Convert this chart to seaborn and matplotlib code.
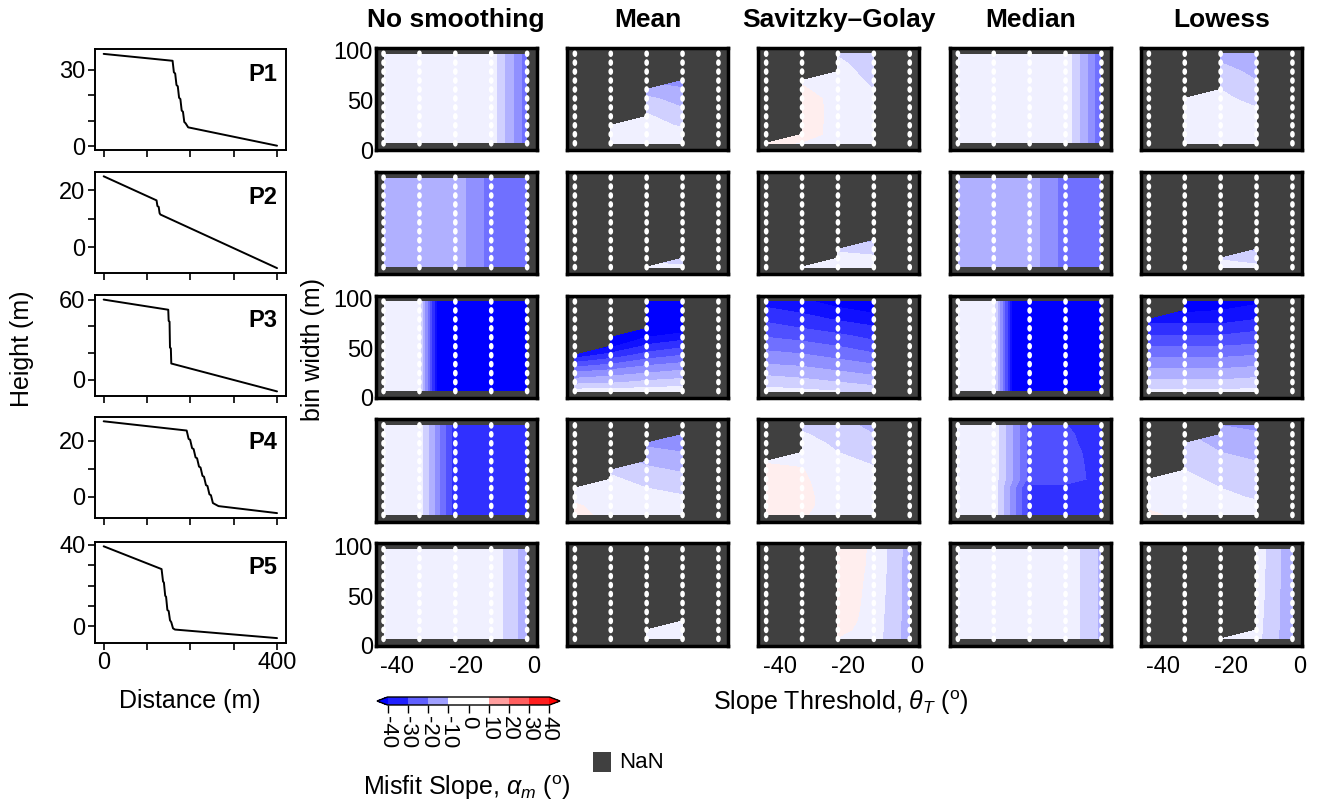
import numpy as np
import matplotlib
matplotlib.use("Agg")
import matplotlib.pyplot as plt
import seaborn as sns
from matplotlib.path import Path
from matplotlib.transforms import Affine2D
from matplotlib.colors import ListedColormap, BoundaryNorm
from matplotlib.cm import ScalarMappable
from matplotlib.patches import Rectangle

N = np.nan

# ---------------- data ----------------
methods = ["No smoothing", "Mean", "Savitzky\u2013Golay", "Median", "Lowess"]
profile_names = ["P1", "P2", "P3", "P4", "P5"]

slope_thresholds = [-44, -33.5, -23, -12.5, -2]
bin_widths = [7, 16, 25, 34, 43, 52, 61, 70, 79, 88, 97]

# profiles (distance m, height m)
p1_distance = [0, 159, 162, 165, 168, 171, 174, 177, 180, 183, 186, 189, 195, 400]
p1_height = [36.2, 33.5, 29, 28.5, 24, 23.5, 19, 18.5, 14, 13.5, 9.5, 9, 7.4, 0.2]
p2_distance = [0, 122, 124, 127, 129, 131, 400]
p2_height = [25, 16.5, 14.5, 14.2, 12, 11.5, -7.4]
p3_distance = [0, 149, 150, 152, 153, 155, 156, 400]
p3_height = [60, 52.4, 44, 43.5, 24, 23.5, 12.1, -8.8]
p4_distance = [0, 191.5, 196, 199.5, 204, 207.5, 212, 215.5, 220, 223.5, 228, 231.5,
               236, 239.5, 244, 247.5, 252, 255.5, 265, 400]
p4_height = [27, 23.7, 20.7, 20.4, 17.4, 17.1, 14.1, 13.8, 10.8, 10.5, 7.5, 7.2,
             4.2, 3.9, 0.9, 0.6, -2.2, -2.5, -3.3, -5.8]
p5_distance = [0, 133.6, 137, 139, 142, 144, 147, 150, 153, 156, 160, 164.5, 400]
p5_height = [39.3, 28.1, 22, 21.5, 15, 14.5, 8, 7.5, 3, 2, -1, -1.6, -5.8]

p_major_ticks = [[0, 30], [0, 20], [0, 60], [0, 20], [0, 40]]
p_minor_ticks = [[10, 20], [10], [20, 40], [10], [10, 20, 30]]

# misfit slope grids: 5 columns (slope thresholds) x 11 values (bin widths, bottom->top)
p1_none = [
    [-2, -2, -2, -2, -2, -2, -2, -2, -2, -2, -2],
    [-2, -2, -2, -2, -2, -2, -2, -2, -2, -2, -2],
    [-2, -2, -2, -2, -2, -2, -2, -2, -2, -2, -2],
    [-1.5, -1.5, -1.5, -1.5, -1.5, -1.5, -1.5, -1.5, -1.5, -1.5, -1.5],
    [-23, -23, -23, -23, -23, -23, -23, -23, -23, -23, -23]]
p1_mean = [
    [N, N, N, N, N, N, N, N, N, N, N],
    [-1.5, -2, -3, N, N, N, N, N, N, N, N],
    [-1.5, -2.5, -3.5, -4.5, -6, -9, -13, N, N, N, N],
    [-2, -3.5, -5.5, -7, -10, -12, -14.5, -17, N, N, N],
    [N, N, N, N, N, N, N, N, N, N, N]]
p1_sg = [
    [1, N, N, N, N, N, N, N, N, N, N],
    [-0.3, 2, 2.5, 3, 3, 2.5, 0.5, -0.5, N, N, N],
    [-1, -1.5, -1.8, -2, -2, -2, -2, -2.5, -3, -4, -5.5],
    [-2, -2.2, -2.5, -3, -3.5, -4, -5, -6, -7, -8, -9],
    [N, N, N, N, N, N, N, N, N, N, N]]
p1_median = [
    [-2, -2, -2, -2, -2, -2, -2, -2, -2, -2, -2],
    [-2, -2, -2, -2, -2, -2, -2, -2, -2, -2, -2],
    [-2, -2, -2, -2, -2, -2, -2, -2, -2, -2, -2],
    [-0.5, -0.5, -0.5, -0.5, -0.5, -0.5, -0.5, -0.5, -0.5, -0.5, -0.5],
    [-24, -24, -24, -24, -24, -24, -24, -24, -24, -24, -24]]
p1_lowess = [
    [N, N, N, N, N, N, N, N, N, N, N],
    [-1, -1.5, -2, -2, -2.5, -3, N, N, N, N, N],
    [-1, -1.5, -2, -2.5, -3, -4, -5, -7, -8.5, -10, -11],
    [-2, -2.5, -3, -4, -5, -6.5, -8, -10, -11, -12, -13],
    [N, N, N, N, N, N, N, N, N, N, N]]

p2_none = [
    [-11.5, -11.5, -11.5, -11.5, -11.5, -11.5, -11.5, -11.5, -11.5, -11.5, -11.5],
    [-12, -12, -12, -12, -12, -12, -12, -12, -12, -12, -12],
    [-12, -12, -12, -12, -12, -12, -12, -12, -12, -12, -12],
    [-22, -22, -22, -22, -22, -22, -22, -22, -22, -22, -22],
    [-22, -22, -22, -22, -22, -22, -22, -22, -22, -22, -22]]
p2_mean = [
    [N, N, N, N, N, N, N, N, N, N, N],
    [N, N, N, N, N, N, N, N, N, N, N],
    [-3, N, N, N, N, N, N, N, N, N, N],
    [-4, -8, N, N, N, N, N, N, N, N, N],
    [N, N, N, N, N, N, N, N, N, N, N]]
p2_sg = [
    [N, N, N, N, N, N, N, N, N, N, N],
    [-1.5, N, N, N, N, N, N, N, N, N, N],
    [-2, -3, -6, N, N, N, N, N, N, N, N],
    [-2.5, -4, -7, -11, N, N, N, N, N, N, N],
    [N, N, N, N, N, N, N, N, N, N, N]]
p2_median = [
    [-12, -12, -12, -12, -12, -12, -12, -12, -12, -12, -12],
    [-12, -12, -12, -12, -12, -12, -12, -12, -12, -12, -12],
    [-12, -12, -12, -12, -12, -12, -12, -12, -12, -12, -12],
    [-22, -22, -22, -22, -22, -22, -22, -22, -22, -22, -22],
    [-22, -22, -22, -22, -22, -22, -22, -22, -22, -22, -22]]
p2_lowess = [
    [N, N, N, N, N, N, N, N, N, N, N],
    [N, N, N, N, N, N, N, N, N, N, N],
    [-3, -5.5, N, N, N, N, N, N, N, N, N],
    [-4, -7, -11, N, N, N, N, N, N, N, N],
    [N, N, N, N, N, N, N, N, N, N, N]]

p3_none = [
    [-2, -2, -2, -2, -2, -2, -2, -2, -2, -2, -2],
    [-2, -2, -2, -2, -2, -2, -2, -2, -2, -2, -2],
    [-80, -80, -80, -80, -80, -80, -80, -80, -80, -80, -80],
    [-80, -80, -80, -80, -80, -80, -80, -80, -80, -80, -80],
    [-80, -80, -80, -80, -80, -80, -80, -80, -80, -80, -80]]
p3_mean = [
    [-3, -12, -19, -28, -38, N, N, N, N, N, N],
    [-3, -11, -17, -25, -33, -41, -48, N, N, N, N],
    [-2.5, -9, -15, -21, -28, -34, -40, -46, -52, -58, -64],
    [-2, -8, -13, -19, -25, -31, -37, -43, -49, -55, -60],
    [N, N, N, N, N, N, N, N, N, N, N]]
p3_sg = [
    [-3, -7.5, -11, -15, -18, -22, -25, -28, -31, -34, -37],
    [-4, -8.5, -12, -16, -19.5, -23, -26.5, -30, -33, -36, -39],
    [-5, -10, -14, -18, -21.5, -25, -28.5, -32, -35.5, -39, -42],
    [-7, -12, -16, -20, -24, -28, -31, -34, -38, -41, -44],
    [N, N, N, N, N, N, N, N, N, N, N]]
p3_median = [
    [-2, -2, -2, -2, -2, -2, -2, -2, -2, -2, -2],
    [-2, -2, -2, -2, -2, -2, -2, -2, -2, -2, -2],
    [-75, -75, -75, -75, -75, -75, -75, -75, -75, -75, -75],
    [-75, -75, -75, -75, -75, -75, -75, -75, -75, -75, -75],
    [-75, -75, -75, -75, -75, -75, -75, -75, -75, -75, -75]]
p3_lowess = [
    [-4, -9, -13, -17, -21, -25, -29, -33, -37, N, N],
    [-4, -9, -13, -17, -21, -25, -29, -33, -37, -41, -44],
    [-4, -9, -13, -17, -21, -25, -29, -33, -37, -40, -43],
    [-4, -8, -12, -16, -20, -24, -28, -31, -35, -38, -41],
    [N, N, N, N, N, N, N, N, N, N, N]]

p4_none = [
    [-2, -2, -2, -2, -2, -2, -2, -2, -2, -2, -2],
    [-2, -2, -2, -2, -2, -2, -2, -2, -2, -2, -2],
    [-33, -33, -33, -33, -33, -33, -33, -33, -33, -33, -33],
    [-33, -33, -33, -33, -33, -33, -33, -33, -33, -33, -33],
    [-33, -33, -33, -33, -33, -33, -33, -33, -33, -33, -33]]
p4_mean = [
    [1, 0.5, -1, -2, N, N, N, N, N, N, N],
    [-1, -1.5, -2, -3, -4, -6, N, N, N, N, N],
    [-1.5, -2.5, -3.5, -5, -7, -9, -11, -13.5, -16, N, N],
    [-2, -3, -4.5, -6.5, -8.5, -10.5, -12.5, -15, -17.5, -20, N],
    [N, N, N, N, N, N, N, N, N, N, N]]
p4_sg = [
    [1.5, 2.5, 3, 3, 2.5, 1.5, -0.5, N, N, N, N],
    [0.2, 0.6, 0.8, 0.8, 0.6, 0.2, -0.5, -2, -3, -4.5, -6],
    [-1, -1.2, -1.5, -2, -2.5, -3, -4, -5, -6, -7, -8],
    [-1.5, -2, -2.5, -3, -3.5, -4.5, -5.5, -6.5, -8, -10, -11.5],
    [N, N, N, N, N, N, N, N, N, N, N]]
p4_median = [
    [-2, -2, -2, -2, -2, -2, -2, -2, -2, -2, -2],
    [-2, -2, -2, -2, -2, -2, -2, -2, -2, -2, -2],
    [-32, -32, -32, -32, -27, -27, -27, -27, -27, -27, -27],
    [-33, -33, -33, -33, -26, -26.5, -27, -27.5, -28.5, -29, -29.8],
    [-33, -33, -33, -33, -33, -33, -33, -33, -33, -33, -33]]
p4_lowess = [
    [1, -1, -2, -3, -4, N, N, N, N, N, N],
    [-1.5, -2, -2.5, -3, -4, -5, -6, -7, -8, N, N],
    [-2, -3, -4, -5, -6, -7, -8.5, -10, -11.5, -13, -15],
    [-2.5, -4, -5.5, -7, -8, -9, -10, -11.5, -13, -14.5, -16],
    [N, N, N, N, N, N, N, N, N, N, N]]

p5_none = [
    [-1.5, -1.5, -1.5, -1.5, -1.5, -1.5, -1.5, -1.5, -1.5, -1.5, -1.5],
    [-1.5, -1.5, -1.5, -1.5, -1.5, -1.5, -1.5, -1.5, -1.5, -1.5, -1.5],
    [-1.5, -1.5, -1.5, -1.5, -1.5, -1.5, -1.5, -1.5, -1.5, -1.5, -1.5],
    [-1, -1, -1, -1, -1, -1, -1, -1, -1, -1, -1],
    [-13, -13, -13, -13, -13, -13, -13, -13, -13, -13, -13]]
p5_mean = [
    [N, N, N, N, N, N, N, N, N, N, N],
    [N, N, N, N, N, N, N, N, N, N, N],
    [-2, -2, N, N, N, N, N, N, N, N, N],
    [-2, -2, -2.5, N, N, N, N, N, N, N, N],
    [N, N, N, N, N, N, N, N, N, N, N]]
p5_sg = [
    [N, N, N, N, N, N, N, N, N, N, N],
    [N, N, N, N, N, N, N, N, N, N, N],
    [-0.3, 1.5, 2.5, 2.8, 3, 3, 3, 3, 3, 3, 3],
    [-2.5, -2.4, -2.2, -2, -1.8, -1.6, -1.4, -1.2, -1, -0.9, -0.8],
    [-12.5, -12.5, -12.5, -12.5, -12.5, -12.5, -12.5, -12.5, -12.5, -12.5, -12.5]]
p5_median = [
    [-1.5, -1.5, -1.5, -1.5, -1.5, -1.5, -1.5, -1.5, -1.5, -1.5, -1.5],
    [-1.5, -1.5, -1.5, -1.5, -1.5, -1.5, -1.5, -1.5, -1.5, -1.5, -1.5],
    [-1.5, -1.5, -1.5, -1.5, -1.5, -1.5, -1.5, -1.5, -1.5, -1.5, -1.5],
    [-1, -1, -1, -1, -1, -1, -1, -1, -1, -1, -1],
    [-11, -11, -11, -11, -11, -11, -11, -11, -11, -11, -11]]
p5_lowess = [
    [N, N, N, N, N, N, N, N, N, N, N],
    [N, N, N, N, N, N, N, N, N, N, N],
    [-2, N, N, N, N, N, N, N, N, N, N],
    [-3.5, -3.3, -3.1, -2.9, -2.7, -2.5, -2.4, -2.3, -2.2, -2.1, -2],
    [-14, -14, -14, -14, -14, -14, -14, -14, -14, -14, -14]]

contour_levels = [-40, -35, -30, -25, -20, -15, -10, -5, 0, 5, 10, 15, 20, 25, 30, 35, 40]
cbar_bounds = [-40, -30, -20, -10, 10, 20, 30, 40]
cbar_mids = [-35, -25, -15, 0, 15, 25, 35]
cbar_ticks = [-40, -30, -20, -10, 0, 10, 20, 30, 40]

profiles = [(p1_distance, p1_height), (p2_distance, p2_height), (p3_distance, p3_height),
            (p4_distance, p4_height), (p5_distance, p5_height)]
panels = [[p1_none, p1_mean, p1_sg, p1_median, p1_lowess],
          [p2_none, p2_mean, p2_sg, p2_median, p2_lowess],
          [p3_none, p3_mean, p3_sg, p3_median, p3_lowess],
          [p4_none, p4_mean, p4_sg, p4_median, p4_lowess],
          [p5_none, p5_mean, p5_sg, p5_median, p5_lowess]]

# ---------------- style ----------------
sns.set_theme(style="ticks")
plt.rcParams["font.family"] = ["Liberation Sans", "DejaVu Sans"]
plt.rcParams["mathtext.fontset"] = "custom"
plt.rcParams["mathtext.rm"] = "Liberation Sans"
plt.rcParams["mathtext.it"] = "Liberation Sans:italic"
plt.rcParams["mathtext.bf"] = "Liberation Sans:bold"
plt.rcParams["axes.unicode_minus"] = False
for key in ["text.color", "axes.labelcolor", "xtick.color", "ytick.color",
            "xtick.labelcolor", "ytick.labelcolor", "axes.edgecolor"]:
    plt.rcParams[key] = "black"

NAN_COLOR = "#404040"
W, H = 1322, 809
fig = plt.figure(figsize=(W / 100, H / 100), dpi=100)


def add_ax(left, top, width, height):
    return fig.add_axes([left / W, 1 - (top + height) / H, width / W, height / H])


# ---------------- profile column ----------------
prof_tops = [49.3, 171.7, 295, 416.7, 541.7]
for i, (dist, hgt) in enumerate(profiles):
    ax = add_ax(95, prof_tops[i], 190.7, 101)
    sns.lineplot(x=dist, y=hgt, ax=ax, color="black", linewidth=1.4,
                 sort=False, estimator=None)
    ax.set_xlabel("")
    ax.set_ylabel("")
    ax.set_xticks([0, 100, 200, 300, 400])
    if i == 4:
        ax.set_xticklabels(["0", "", "", "", "400"])
    else:
        ax.tick_params(axis="x", labelbottom=False)
    major = p_major_ticks[i]
    ticks = sorted(major + p_minor_ticks[i])
    ax.set_yticks(ticks)
    ax.set_yticklabels([str(t) if t in major else "" for t in ticks])
    ax.tick_params(length=5, width=1.2, color="black", labelsize=17, pad=2,
                   direction="out", labelcolor="black")
    for sp in ax.spines.values():
        sp.set_linewidth(1.4)
        sp.set_color("black")
    ax.text(0.955, 0.86, profile_names[i], transform=ax.transAxes, ha="right",
            va="top", fontsize=17, fontweight="bold", color="black")

# ---------------- contour panels ----------------
col_lefts = [375.7, 567, 758.3, 950, 1141]
row_tops = [47.7, 171.6, 295.5, 419.4, 543.3]
gx, gy = np.meshgrid(slope_thresholds, bin_widths)
dot_marker = Path.unit_circle().transformed(Affine2D().scale(0.7, 1.0))

for r in range(5):
    for c in range(5):
        ax = add_ax(col_lefts[c], row_tops[r], 161, 102.5)
        ax.set_facecolor(NAN_COLOR)
        Z = np.array(panels[r][c], dtype=float).T
        ax.contourf(slope_thresholds, bin_widths, Z, levels=contour_levels,
                    cmap="bwr", vmin=-40, vmax=40, extend="both", zorder=1)
        sns.scatterplot(x=gx.ravel(), y=gy.ravel(), ax=ax, marker=dot_marker,
                        s=23, color="white", edgecolor="none", linewidth=0,
                        zorder=3, legend=False)
        ax.set_xlim(-46.3, 0.8)
        ax.set_ylim(0, 103)
        ax.set_xticks([-40, -20, 0])
        ax.set_yticks([0, 50, 100])
        ax.tick_params(length=0, labelsize=17, labelcolor="black")
        ax.tick_params(axis="x", pad=7)
        ax.tick_params(axis="y", pad=2)
        ax.grid(False)
        if not (c == 0 and r in (0, 2, 4)):
            ax.tick_params(labelleft=False)
        if not (r == 4 and c in (0, 2, 4)):
            ax.tick_params(labelbottom=False)
        for sp in ax.spines.values():
            sp.set_linewidth(2.5)
            sp.set_color("black")
            sp.set_zorder(5)

# column titles
for c, name in enumerate(methods):
    fig.text((col_lefts[c] + 80.5) / W, 1 - 20 / H, name, ha="center",
             va="center", fontsize=19, fontweight="bold", color="black")

# axis labels
fig.text(22 / W, 1 - 349 / H, "Height (m)", rotation=90, ha="center",
         va="center", fontsize=18, color="black")
fig.text(190 / W, 1 - 701 / H, "Distance (m)", ha="center", va="center",
         fontsize=18, color="black")
fig.text(313 / W, 1 - 350 / H, "bin width (m)", rotation=90, ha="center",
         va="center", fontsize=18, color="black")
fig.text(841 / W, 1 - 703 / H, r"Slope Threshold, $\theta_T$ ($^{\mathrm{o}}$)",
         ha="center", va="center", fontsize=18, color="black")

# ---------------- colorbar ----------------
bwr = plt.get_cmap("bwr")
cb_cmap = ListedColormap([bwr((m + 40) / 80) for m in cbar_mids])
cb_cmap.set_under(bwr(0.0))
cb_cmap.set_over(bwr(1.0))
cb_norm = BoundaryNorm(cbar_bounds, cb_cmap.N)
cax = add_ax(377, 697, 183, 8)
cb = fig.colorbar(ScalarMappable(norm=cb_norm, cmap=cb_cmap), cax=cax,
                  orientation="horizontal", extend="both", ticks=cbar_ticks,
                  spacing="proportional", extendfrac=0.065)
cb.outline.set_linewidth(1)
cb.outline.set_edgecolor("black")
cax.tick_params(labelsize=16, length=6, width=1, color="black", pad=2,
                direction="out", labelcolor="black")
for t in cax.get_xticklabels():
    t.set_rotation(-90)
fig.text(467 / W, 1 - 788 / H, r"Misfit Slope, $\alpha_m$ ($^{\mathrm{o}}$)",
         ha="center", va="center", fontsize=18, color="black")

# NaN legend
fig.add_artist(Rectangle((593 / W, 1 - 772 / H), 18 / W, 20 / H,
                         transform=fig.transFigure, facecolor=NAN_COLOR,
                         edgecolor="none"))
fig.text(619 / W, 1 - 762 / H, "NaN", ha="left", va="center", fontsize=16,
         color="black")

fig.savefig("out.png", dpi=100)
